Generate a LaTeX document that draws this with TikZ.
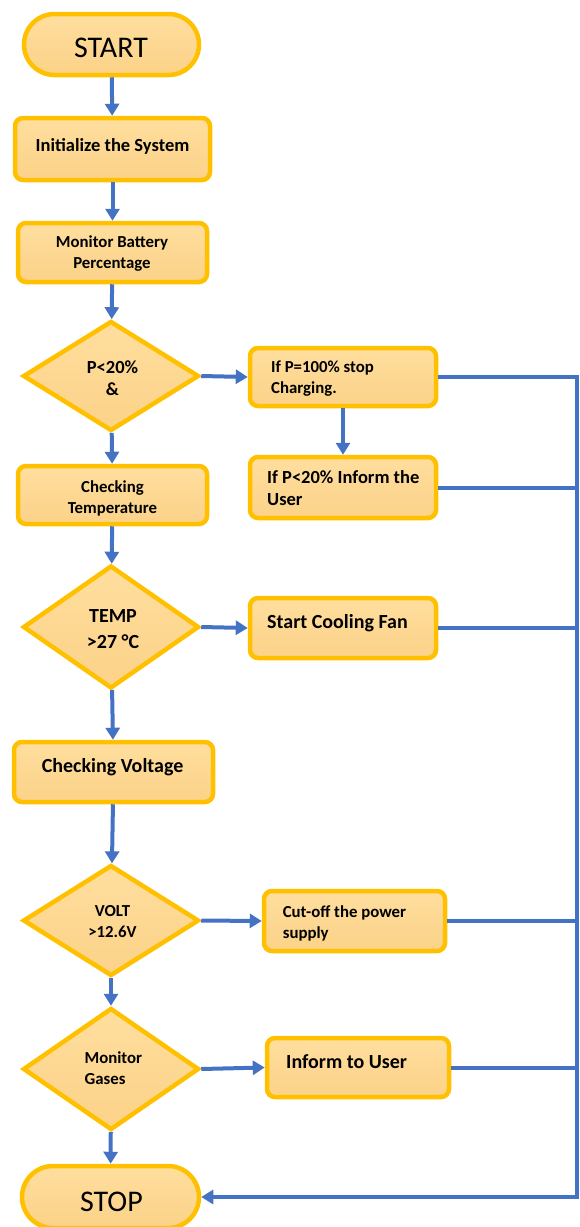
\documentclass[tikz,border=0pt]{standalone}
\usepackage{fontspec}
\setmainfont{Carlito}
\usetikzlibrary{shapes.geometric,shapes.misc,arrows.meta}
\definecolor{gold}{HTML}{FFC000}
\definecolor{filltop}{HTML}{FFDE9E}
\definecolor{fillbot}{HTML}{FBD288}
\definecolor{flow}{HTML}{4472C4}
\newcommand\sizeA{\fontsize{30}{36}\selectfont}
\newcommand\sizeB{\bfseries\fontsize{20}{26}\selectfont}
\newcommand\sizeC{\bfseries\fontsize{18.5}{22}\selectfont}
\newcommand\sizeD{\bfseries\fontsize{16.8}{20.5}\selectfont}
\begin{document}
\begin{tikzpicture}[x=1pt,y=-1pt,
  shapebase/.style={draw=gold, line width=4.5pt, top color=filltop, bottom color=fillbot, inner sep=0pt},
  terminal/.style={shapebase, rounded rectangle},
  procbox/.style={shapebase, rectangle, rounded corners=8pt},
  decision/.style={shapebase, diamond},
  txt/.style={inner sep=0pt, text=black},
  flowline/.style={draw=flow, line width=4pt},
  flowarrow/.style={flowline, -{Triangle[length=12pt,width=14pt]}},
]
\useasboundingbox (0,0) rectangle (579,1227);

% main column
\node[terminal, minimum width=175pt, minimum height=61pt] (start) at (111.5,44.5) {};
\node[procbox, minimum width=195pt, minimum height=62pt] (init) at (112.5,149) {};
\node[procbox, minimum width=189pt, minimum height=59pt] (mon) at (112.5,252.5) {};
\node[decision, minimum width=176pt, minimum height=110pt] (d1) at (111,376) {};
\node[procbox, minimum width=189pt, minimum height=58pt] (temp) at (112.5,495) {};
\node[decision, minimum width=176pt, minimum height=123pt] (d2) at (111,627) {};
\node[procbox, minimum width=199pt, minimum height=60pt] (volt) at (113.5,772) {};
\node[decision, minimum width=176pt, minimum height=111pt] (d3) at (111,920.5) {};
\node[decision, minimum width=176pt, minimum height=122pt] (d4) at (111,1069) {};
\node[terminal, minimum width=177pt, minimum height=62pt] (stop) at (110.5,1197) {};

% action boxes
\node[procbox, minimum width=186pt, minimum height=58pt] (b1) at (343,377) {};
\node[procbox, minimum width=186pt, minimum height=61pt] (b2) at (343,487.5) {};
\node[procbox, minimum width=186pt, minimum height=60pt] (fan) at (343,628) {};
\node[procbox, minimum width=181pt, minimum height=60pt] (cut) at (354.5,921) {};
\node[procbox, minimum width=182pt, minimum height=59pt] (inf) at (358,1067.5) {};

% texts (base anchor sits on the last line)
\node[txt, font=\sizeA, anchor=base] (start-t) at (111,57) {START};
\node[txt, font=\sizeC, anchor=base] (init-t) at (112.5,151.7) {Initialize the System};
\node[txt, font=\sizeD, align=center, anchor=base] (mon-t) at (112,268) {Monitor Battery\\Percentage};
\node[txt, font=\sizeC, align=center, anchor=base] (d1-t) at (112.5,395) {P<20\%\\\&};
\node[txt, font=\sizeD, align=center, anchor=base] (temp-t) at (112.5,513) {Checking\\Temperature};
\node[txt, font=\sizeB, align=center, anchor=base] (d2-t) at (113,648) {TEMP\\>27 °C};
\node[txt, font=\sizeB, anchor=base] (volt-t) at (112.6,772) {Checking Voltage};
\node[txt, font=\sizeD, align=center, anchor=base] (d3-t) at (112.5,937) {VOLT\\>12.6V};
\node[txt, font=\sizeD, align=left, anchor=base west] (d4-t) at (84.4,1084) {Monitor\\Gases};
\node[txt, font=\sizeA, anchor=base] (stop-t) at (111.5,1211) {STOP};

\node[txt, font=\sizeD, align=left, anchor=base west] (b1-t) at (271,393) {If P=100\% stop\\Charging.};
\node[txt, font=\sizeC, align=left, anchor=base west] (b2-t) at (267,505) {If P<20\% Inform the\\User};
\node[txt, font=\sizeB, anchor=base west] (fan-t) at (267,628) {Start Cooling Fan};
\node[txt, font=\sizeD, align=left, anchor=base west] (cut-t) at (282.6,938) {Cut-off the power\\supply};
\node[txt, font=\sizeB, anchor=base west] (inf-t) at (286,1068) {Inform to User};

% main flow
\draw[flowarrow] (start) -- (init);
\draw[flowarrow] (init) -- (mon);
\draw[flowarrow] (mon) -- (d1);
\draw[flowarrow] (d1) -- (temp);
\draw[flowarrow] (temp) -- (d2);
\draw[flowarrow] (d2) -- (volt);
\draw[flowarrow] (volt) -- (d3);
\draw[flowarrow] (d3) -- (d4);
\draw[flowarrow] (d4) -- (stop);

% branches
\draw[flowarrow] (d1.east) -- (b1.west);
\draw[flowarrow] (b1) -- (b2);
\draw[flowarrow] (d2.east) -- (fan.west);
\draw[flowarrow] (d3.east) -- (cut.west);
\draw[flowarrow] (d4.east) -- (inf.west);

% return bus to STOP
\coordinate (bus1) at (577,377);
\coordinate (bus2) at (577,1197);
\draw[flowarrow] (b1.east) -- (bus1) -- (bus2) -- (stop.east);
\draw[flowline] (b2.east) -- (b2.east -| bus1);
\draw[flowline] (fan.east) -- (fan.east -| bus1);
\draw[flowline] (cut.east) -- (cut.east -| bus1);
\draw[flowline] (inf.east) -- (inf.east -| bus1);
\end{tikzpicture}
\end{document}
